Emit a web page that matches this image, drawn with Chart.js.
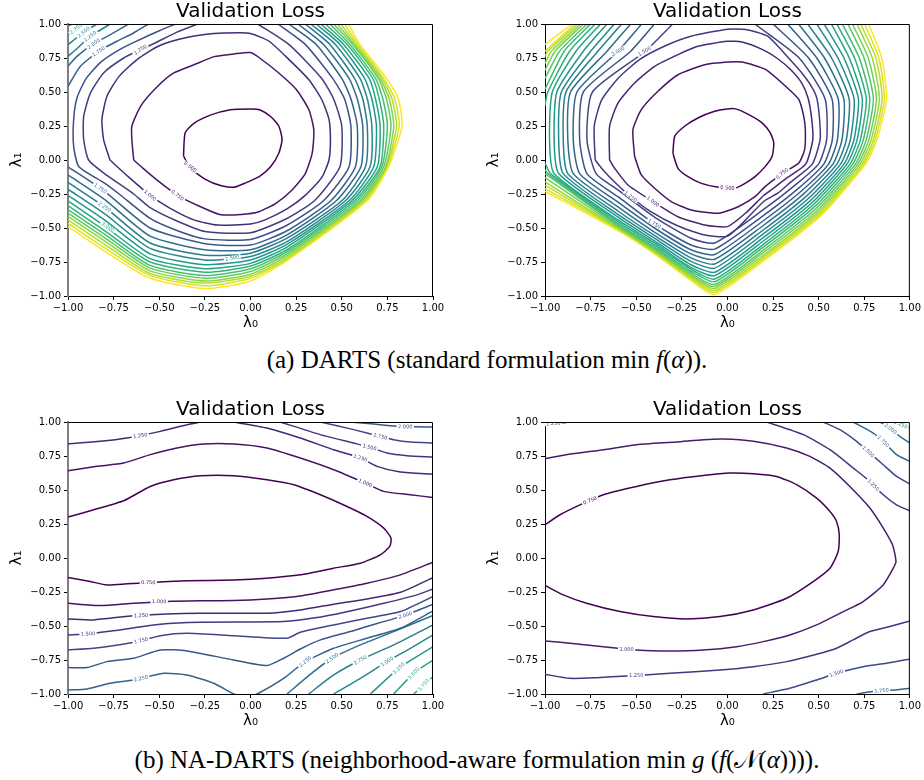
<!DOCTYPE html>
<html>
<head>
<meta charset="utf-8">
<script src="https://cdn.jsdelivr.net/npm/chart.js@4.4.0/dist/chart.umd.min.js"></script>
<style>
  html, body { margin: 0; padding: 0; background: #fff; overflow: hidden; }
  body { width: 924px; height: 780px; position: relative; }
  .panel { position: absolute; }
  .caption {
    position: absolute; transform: translateX(-50%); white-space: nowrap;
    font-family: "Liberation Serif", "Times New Roman", serif; font-size: 25px; line-height: 32px; color: #000;
  }
</style>
</head>
<body>
<div class="panel" style="left:0;top:0"><canvas id="c1" width="450" height="340"></canvas></div>
<div class="panel" style="left:477px;top:0"><canvas id="c2" width="446" height="340"></canvas></div>
<div class="panel" style="left:0;top:398px"><canvas id="c3" width="450" height="340"></canvas></div>
<div class="panel" style="left:477px;top:398px"><canvas id="c4" width="446" height="340"></canvas></div>
<div class="caption" style="left:487px;top:344px">(a) DARTS (standard formulation min <i>f</i>(<i>α</i>)).</div>
<div class="caption" style="left:477px;top:744px">(b) NA-DARTS (neighborhood-aware formulation min <i>g</i> (<i>f</i>(𝒩(<i>α</i>)))).</div>
<script>
// ---------- (a) left: DARTS, run 1 ----------
// inner loops, flat x,y pairs
const p1c050 = [-0.367,0.03, -0.358,0.20, -0.31,0.27, -0.22,0.33, -0.11,0.37, 0.0,0.375, 0.05,0.37, 0.11,0.32, 0.155,0.25, 0.173,0.15, 0.155,0.05, 0.11,-0.05, 0.05,-0.12, -0.03,-0.17, -0.09,-0.20, -0.16,-0.19, -0.25,-0.14, -0.33,-0.06, -0.367,0.03];
const p1c075 = [-0.64,0.0, -0.65,0.15, -0.65,0.25, -0.60,0.40, -0.51,0.54, -0.42,0.64, -0.31,0.70, -0.20,0.76, -0.09,0.78, 0.0,0.79, 0.05,0.75, 0.155,0.64, 0.25,0.52, 0.32,0.37, 0.347,0.22, 0.338,0.05, 0.30,-0.10, 0.228,-0.22, 0.137,-0.32, 0.046,-0.38, -0.05,-0.40, -0.17,-0.40, -0.28,-0.34, -0.40,-0.26, -0.51,-0.15, -0.59,-0.06, -0.64,0.0];
const p1c100 = [-0.77,0.0, -0.805,0.15, -0.814,0.30, -0.786,0.47, -0.72,0.615, -0.62,0.74, -0.50,0.84, -0.35,0.90, -0.20,0.93, -0.06,0.935, 0.0,0.93, 0.10,0.875, 0.21,0.74, 0.32,0.59, 0.39,0.445, 0.43,0.30, 0.438,0.15, 0.43,0.0, 0.39,-0.13, 0.30,-0.26, 0.20,-0.36, 0.08,-0.44, 0.0,-0.47, -0.18,-0.478, -0.31,-0.44, -0.44,-0.355, -0.55,-0.26, -0.68,-0.11, -0.77,0.0];
const p1c125 = [-0.29,1.0, -0.403,0.94, -0.531,0.855, -0.604,0.811, -0.695,0.75, -0.805,0.64, -0.878,0.49, -0.914,0.32, -0.914,0.15, -0.887,0.0, -0.80,-0.10, -0.64,-0.25, -0.55,-0.35, -0.40,-0.45, -0.25,-0.525, 0.0,-0.535, 0.2,-0.43, 0.35,-0.30, 0.49,-0.05, 0.50,0.25, 0.455,0.45, 0.39,0.60, 0.21,0.85, 0.04,1.0];
const p1c150 = [-0.41,1.0, -0.50,0.95, -0.63,0.87, -0.72,0.81, -0.82,0.72, -0.90,0.60, -0.95,0.46, -0.969,0.30, -0.969,0.10, -0.94,-0.05, -0.80,-0.17, -0.72,-0.25, -0.55,-0.43, -0.40,-0.52, -0.25,-0.58, 0.0,-0.585, 0.2,-0.48, 0.40,-0.30, 0.54,-0.05, 0.55,0.25, 0.515,0.45, 0.45,0.60, 0.30,0.85, 0.15,1.0];
// top-left corner pieces
const p1TL175 = [-0.558,1.0, -0.641,0.934, -0.732,0.873, -0.832,0.799, -0.932,0.689, -1.0,0.542];
const p1TL200 = [-0.668,1.0, -0.768,0.922, -0.859,0.855, -0.951,0.762, -1.0,0.689];
const p1TL225 = [-0.768,1.0, -0.878,0.909, -0.95,0.82, -1.0,0.762];
const p1TL250 = [-0.841,1.0, -0.914,0.939, -1.0,0.848];
const p1TL275 = [-0.914,1.0, -1.0,0.922];
const p1TL300 = [-0.978,1.0, -1.0,0.983];
// outer band, read along fixed cuts
const p1Levels  = [1.75, 2.0, 2.25, 2.5, 2.75, 3.0, 3.25, 3.5, 3.75, 4.0, 4.25, 4.5, 4.75];
const p1EdgeY   = [-0.05,-0.11,-0.165,-0.215,-0.26,-0.30,-0.335,-0.365,-0.39,-0.415,-0.44,-0.465,-0.49]; // at x=-1
const p1YxM080  = [-0.23,-0.29,-0.345,-0.395,-0.44,-0.485,-0.52,-0.545,-0.57,-0.595,-0.62,-0.645,-0.67];
const p1YxM055  = [-0.50,-0.56,-0.61,-0.65,-0.69,-0.725,-0.75,-0.775,-0.795,-0.815,-0.835,-0.85,-0.87];
const p1YxM025  = [-0.615,-0.66,-0.70,-0.735,-0.77,-0.80,-0.825,-0.85,-0.87,-0.89,-0.905,-0.925,-0.945];
const p1Yx000   = [-0.625,-0.66,-0.685,-0.71,-0.735,-0.76,-0.78,-0.80,-0.82,-0.84,-0.855,-0.87,-0.89];
const p1Yx020   = [-0.52,-0.55,-0.575,-0.60,-0.62,-0.64,-0.66,-0.675,-0.69,-0.705,-0.72,-0.73,-0.74];
const p1XyM030  = [0.44,0.47,0.50,0.52,0.54,0.555,0.57,0.585,0.60,0.61,0.62,0.63,0.64];
const p1XyM005  = [0.575,0.605,0.63,0.655,0.675,0.695,0.71,0.72,0.73,0.74,0.745,0.75,0.757];
const p1Xy025   = [0.585,0.615,0.64,0.665,0.69,0.71,0.73,0.75,0.77,0.785,0.80,0.815,0.83];
const p1Xy045   = [0.55,0.585,0.615,0.64,0.665,0.685,0.705,0.725,0.745,0.76,0.775,0.79,0.81];
const p1Xy060   = [0.50,0.54,0.57,0.60,0.625,0.65,0.67,0.685,0.70,0.71,0.72,0.73,0.745];
const p1Xy085   = [0.36,0.40,0.435,0.465,0.49,0.51,0.53,0.545,0.56,0.57,0.58,0.59,0.60];
const p1TopX    = [0.21,0.26,0.30,0.33,0.36,0.385,0.41,0.435,0.455,0.475,0.495,0.515,0.537]; // at y=1
const p1Labels = [
  [-0.33,-0.05,37,0.5], [-0.40,-0.26,37,0.75], [-0.55,-0.26,41,1.0], [-0.823,-0.209,34,1.75],
  [-0.80,-0.345,34,2.25], [-0.78,-0.49,34,3.0], [-0.10,-0.72,-12,2.5], [-0.604,0.811,-33,1.25],
  [-0.832,0.799,-34,1.75], [-0.859,0.855,-35,2.0], [-0.878,0.909,-38,2.25], [-0.914,0.939,-38,2.5], [-0.955,0.965,-38,2.75]
];

// ---------- (a) right: DARTS, run 2 ----------
const p2c050 = [-0.299,0.05, -0.289,0.174, -0.235,0.248, -0.162,0.309, -0.07,0.358, 0.0,0.375, 0.044,0.376, 0.117,0.334, 0.19,0.273, 0.235,0.199, 0.254,0.125, 0.245,0.027, 0.208,-0.047, 0.153,-0.12, 0.099,-0.17, 0.044,-0.206, -0.05,-0.20, -0.143,-0.172, -0.216,-0.123, -0.271,-0.061, -0.299,0.05];
const p2c075 = [-0.509,0.027, -0.518,0.223, -0.472,0.37, -0.381,0.505, -0.271,0.627, -0.125,0.70, 0.0,0.72, 0.08,0.72, 0.208,0.666, 0.318,0.543, 0.391,0.445, 0.418,0.322, 0.427,0.224, 0.423,0.076, 0.391,-0.022, 0.30,-0.10, 0.208,-0.194, 0.153,-0.268, 0.062,-0.342, -0.029,-0.386, -0.07,-0.392, -0.198,-0.368, -0.308,-0.306, -0.399,-0.208, -0.472,-0.11, -0.509,0.027];
const p2c100 = [-0.646,0.0, -0.646,0.248, -0.60,0.419, -0.509,0.566, -0.399,0.689, -0.271,0.775, -0.162,0.836, 0.0,0.873, 0.08,0.867, 0.19,0.813, 0.27,0.75, 0.35,0.66, 0.41,0.56, 0.443,0.45, 0.462,0.30, 0.468,0.15, 0.429,-0.03, 0.324,-0.133, 0.26,-0.20, 0.20,-0.259, 0.10,-0.39, 0.0,-0.49, -0.125,-0.478, -0.271,-0.417, -0.408,-0.306, -0.545,-0.184, -0.618,-0.061, -0.646,0.0];
const p2c125 = [-0.725,0.0, -0.73,0.25, -0.69,0.44, -0.60,0.60, -0.48,0.74, -0.34,0.84, -0.2,0.91, 0.0,0.962, 0.1,0.96, 0.22,0.91, 0.335,0.75, 0.42,0.62, 0.47,0.52, 0.491,0.45, 0.505,0.30, 0.508,0.15, 0.465,-0.03, 0.346,-0.163, 0.28,-0.24, 0.2,-0.303, 0.1,-0.44, 0.0,-0.56, -0.13,-0.55, -0.28,-0.48, -0.42,-0.38, -0.53,-0.27, -0.62,-0.16, -0.69,-0.06, -0.725,0.0];
const p2Levels  = [1.5, 1.75, 2.0, 2.25, 2.5, 2.75, 3.0, 3.25, 3.5, 3.75, 4.0, 4.25, 4.5, 4.75, 5.0, 5.25];
const p2TopL    = [-0.30,-0.40,-0.47,-0.53,-0.58,-0.62,-0.66,-0.695,-0.725,-0.75,-0.77,-0.79,-0.805,-0.82,-0.835,-0.85];
const p2Xy080   = [-0.45,-0.53,-0.60,-0.66,-0.71,-0.75,-0.79,-0.83,-0.865,-0.895,-0.92,-0.945,-0.965,-0.985,null,null];
const p2Xy050   = [-0.74,-0.79,-0.825,-0.86,-0.885,-0.91,-0.935,-0.96,-0.985,null,null,null,null,null,null,null];
const p2Xy015   = [-0.77,-0.81,-0.845,-0.875,-0.90,-0.925,-0.95,-0.975,null,null,null,null,null,null,null,null];
const p2EdgeUp  = [null,null,null,null,null,null,null,null,0.40,0.52,0.60,0.66,0.71,0.76,0.80,0.85];
const p2EdgeLo  = [null,null,null,null,null,null,null,null,-0.02,-0.07,-0.10,-0.13,-0.16,-0.185,-0.21,-0.23];
const p2XyM010  = [-0.72,-0.77,-0.81,-0.845,-0.875,-0.90,-0.925,-0.95,-0.97,-0.985,null,null,null,null,null,null];
const p2YxM060  = [-0.22,-0.27,-0.31,-0.345,-0.375,-0.40,-0.42,-0.44,-0.455,-0.47,-0.48,-0.49,-0.50,-0.505,-0.51,-0.52];
const p2YxM040  = [-0.42,-0.47,-0.50,-0.53,-0.555,-0.575,-0.595,-0.61,-0.625,-0.64,-0.65,-0.66,-0.668,-0.675,-0.683,-0.69];
const p2YxM020  = [-0.575,-0.625,-0.66,-0.69,-0.72,-0.745,-0.77,-0.79,-0.803,-0.818,-0.832,-0.845,-0.855,-0.865,-0.875,-0.885];
const p2YxM007  = [-0.61,-0.655,-0.695,-0.73,-0.765,-0.795,-0.825,-0.85,-0.875,-0.895,-0.915,-0.93,-0.945,-0.96,-0.975,-0.99];
const p2Yx020   = [-0.362,-0.405,-0.443,-0.478,-0.511,-0.540,-0.567,-0.592,-0.616,-0.637,-0.659,-0.678,-0.697,-0.713,-0.727,-0.74];
const p2DiagX   = [0.366,0.384,0.399,0.413,0.427,0.439,0.450,0.460,0.469,0.478,0.487,0.495,0.502,0.509,0.515,0.52];
const p2DiagY   = [-0.190,-0.214,-0.235,-0.255,-0.273,-0.289,-0.304,-0.318,-0.331,-0.343,-0.355,-0.366,-0.376,-0.385,-0.393,-0.40];
const p2XyM003  = [0.499,0.528,0.554,0.578,0.60,0.62,0.639,0.655,0.672,0.687,0.702,0.715,0.727,0.739,0.748,0.757];
const p2XyP015  = [0.544,0.575,0.603,0.628,0.652,0.674,0.694,0.711,0.729,0.745,0.761,0.775,0.788,0.80,0.81,0.82];
const p2XyP045  = [0.535,0.573,0.607,0.638,0.667,0.694,0.718,0.739,0.761,0.78,0.80,0.817,0.833,0.848,0.86,0.872];
const p2XyP075  = [0.393,0.445,0.49,0.532,0.571,0.606,0.639,0.668,0.697,0.723,0.749,0.772,0.794,0.814,0.83,0.846];
const p2TopR    = [0.15,0.25,0.33,0.39,0.44,0.49,0.53,0.57,0.60,0.63,0.66,0.685,0.71,0.73,0.752,0.774];
const p2Labels = [
  [0.0,-0.205,3,0.5], [0.30,-0.10,-40,0.75], [-0.408,-0.306,35,1.0], [-0.53,-0.27,38,1.25],
  [-0.40,-0.47,30,1.75], [-0.454,0.80,-30,1.5], [-0.60,0.80,-30,2.0]
];

// ---------- (b) left: NA-DARTS, run 1 ----------
const p3c125a = [-1,0.84, -0.823,0.858, -0.677,0.882, -0.494,0.931, -0.348,0.98, -0.275,1.0];
const p3c125b = [-0.092,1.0, 0.09,0.956, 0.273,0.882, 0.456,0.796, 0.602,0.735, 0.693,0.674, 0.821,0.632, 1.0,0.617];
const p3c150a = [0.163,1.0, 0.383,0.907, 0.565,0.845, 0.657,0.813, 0.748,0.772, 0.858,0.752, 1.0,0.742];
const p3c175a = [0.383,1.0, 0.565,0.944, 0.711,0.894, 0.784,0.87, 0.876,0.853, 1.0,0.845];
const p3c200a = [0.547,1.0, 0.675,0.985, 0.821,0.968, 1.0,0.963];
const p3c100a = [-1,0.642, -0.841,0.674, -0.695,0.698, -0.549,0.76, -0.403,0.809, -0.257,0.838, -0.092,0.838, 0.09,0.809, 0.273,0.735, 0.456,0.649, 0.629,0.551, 0.73,0.49, 0.876,0.465, 1.0,0.445];
const p3c075  = [-1,0.301, -0.859,0.355, -0.695,0.421, -0.549,0.526, -0.421,0.575, -0.275,0.605, -0.092,0.605, 0.09,0.575, 0.237,0.539, 0.383,0.465, 0.529,0.379, 0.638,0.306, 0.73,0.22, 0.77,0.146, 0.763,0.085, 0.711,0.023, 0.602,-0.038, 0.456,-0.075, 0.273,-0.124, 0.09,-0.148, -0.092,-0.161, -0.348,-0.168, -0.549,-0.18, -0.677,-0.19, -0.786,-0.198, -0.878,-0.173, -1,-0.144];
const p3c100b = [-1,-0.333, -0.823,-0.35, -0.64,-0.333, -0.458,-0.32, -0.275,-0.315, -0.092,-0.313, 0.09,-0.301, 0.273,-0.279, 0.456,-0.234, 0.638,-0.185, 0.821,-0.124, 1.0,-0.031];
const p3c125c = [-1,-0.448, -0.859,-0.455, -0.658,-0.426, -0.458,-0.411, -0.275,-0.406, 0.09,-0.406, 0.273,-0.382, 0.456,-0.34, 0.638,-0.301, 0.821,-0.252, 1.0,-0.144];
const p3c150b = [-1,-0.566, -0.896,-0.558, -0.786,-0.541, -0.494,-0.487, -0.275,-0.472, 0.182,-0.467, 0.364,-0.438, 0.547,-0.389, 0.73,-0.333, 0.912,-0.271, 1.0,-0.227];
const p3c175b = [-1,-0.676, -0.859,-0.664, -0.64,-0.62, -0.494,-0.571, -0.348,-0.553, -0.092,-0.571, 0.20,-0.59, 0.273,-0.546, 0.456,-0.492, 0.638,-0.443, 0.821,-0.394, 1.0,-0.283];
const p3c200b = [-1,-0.806, -0.896,-0.806, -0.786,-0.762, -0.64,-0.737, -0.494,-0.676, -0.348,-0.683, -0.092,-0.75, 0.09,-0.791, 0.182,-0.737, 0.273,-0.669, 0.383,-0.602, 0.547,-0.541, 0.638,-0.504, 0.848,-0.42, 1.0,-0.34];
const p3c225  = [-1,-0.971, -0.896,-0.963, -0.768,-0.921, -0.64,-0.897, -0.476,-0.848, -0.348,-0.86, -0.202,-0.921, -0.092,-1.0, -0.028,-1.03, 0.036,-1.0, 0.182,-0.885, 0.30,-0.762, 0.456,-0.664, 0.638,-0.59, 0.821,-0.517, 1.0,-0.389];
const p3c250  = [0.20,-1.0, 0.346,-0.836, 0.447,-0.737, 0.602,-0.639, 0.785,-0.541, 1.0,-0.423];
const p3c275  = [0.319,-1.0, 0.456,-0.86, 0.602,-0.75, 0.785,-0.639, 1.0,-0.492];
const p3c300  = [0.456,-1.0, 0.602,-0.885, 0.748,-0.762, 0.876,-0.664, 1.0,-0.566];
const p3c325  = [0.657,-1.0, 0.812,-0.811, 1.0,-0.652];
const p3c350  = [0.785,-1.0, 0.894,-0.848, 1.0,-0.75];
const p3c375  = [0.894,-1.0, 0.949,-0.934, 1.0,-0.872];
const p3Labels = [
  [-0.604,0.90,-8,1.25], [0.848,0.966,2,2.0], [0.711,0.894,14,1.75], [0.652,0.815,14,1.5], [0.602,0.735,17,1.25], [0.629,0.551,23,1.0],
  [-0.56,-0.18,1,0.75], [-0.50,-0.32,1,1.0], [-0.60,-0.423,-3,1.25], [-0.89,-0.557,-3,1.5], [-0.60,-0.607,-14,1.75], [0.848,-0.42,-18,2.0],
  [-0.60,-0.885,-12,2.25], [0.30,-0.762,-40,2.25], [0.447,-0.737,-36,2.5], [0.602,-0.75,-30,2.75], [0.748,-0.762,-35,3.0],
  [0.812,-0.811,-45,3.25], [0.894,-0.848,-48,3.5], [0.949,-0.934,-50,3.75]
];

// ---------- (b) right: NA-DARTS, run 2 ----------
const p4c125a = [-1,0.985, -0.9,0.995, -0.85,1.005];
const p4c100  = [-1,0.73, -0.863,0.764, -0.68,0.796, -0.498,0.833, -0.279,0.853, -0.132,0.87, -0.023,0.875, 0.142,0.858, 0.324,0.809, 0.452,0.747, 0.562,0.661, 0.671,0.526, 0.781,0.367, 0.854,0.22, 0.905,0.097, 0.924,-0.026, 0.909,-0.075, 0.854,-0.198, 0.744,-0.32, 0.635,-0.394, 0.489,-0.492, 0.342,-0.566, 0.196,-0.615, 0.05,-0.652, -0.132,-0.676, -0.315,-0.683, -0.498,-0.676, -0.68,-0.652, -0.863,-0.627, -1,-0.61];
const p4c075  = [-1,0.244, -0.918,0.318, -0.808,0.391, -0.68,0.465, -0.498,0.526, -0.315,0.575, -0.132,0.607, 0.014,0.625, 0.142,0.62, 0.269,0.60, 0.379,0.539, 0.489,0.44, 0.562,0.342, 0.598,0.269, 0.613,0.171, 0.607,0.048, 0.562,-0.075, 0.47,-0.173, 0.324,-0.296, 0.142,-0.382, -0.041,-0.431, -0.224,-0.448, -0.406,-0.431, -0.589,-0.394, -0.772,-0.333, -0.9,-0.271, -1,-0.202];
const p4c125b = [-1,-0.855, -0.863,-0.885, -0.717,-0.88, -0.552,-0.867, -0.315,-0.848, -0.041,-0.823, 0.142,-0.799, 0.324,-0.762, 0.489,-0.708, 0.598,-0.664, 0.689,-0.602, 0.781,-0.541, 0.89,-0.504, 1.0,-0.463];
const p4c125c = [0.215,1.0, 0.416,0.907, 0.562,0.796, 0.69,0.661, 0.781,0.563, 0.854,0.465, 0.927,0.391, 1.0,0.347];
const p4c150a = [0.196,-1.0, 0.342,-0.958, 0.489,-0.897, 0.598,-0.848, 0.744,-0.799, 0.872,-0.774, 1.0,-0.742];
const p4c150b = [0.525,1.0, 0.616,0.944, 0.708,0.858, 0.781,0.772, 0.854,0.686, 0.927,0.60, 1.0,0.544];
const p4c175a = [0.708,-1.0, 0.817,-0.978, 0.909,-0.971, 1.0,-0.958];
const p4c175b = [0.689,1.0, 0.799,0.919, 0.854,0.858, 0.927,0.76, 1.0,0.71];
const p4c200  = [0.836,1.0, 0.89,0.956, 0.945,0.894, 1.0,0.845];
const p4c225  = [0.918,1.0, 1.0,0.956];
const p4Labels = [
  [-0.954,0.99,-4,1.25], [-0.753,0.423,-23,0.75], [-0.553,-0.672,0,1.0], [-0.50,-0.865,0,1.25], [0.598,-0.848,-19,1.5],
  [0.845,-0.975,-5,1.75], [0.80,0.537,45,1.25], [0.772,0.782,45,1.5], [0.854,0.858,45,1.75], [0.895,0.95,38,2.0], [0.95,0.983,25,2.25]
];

// colour range of each panel's levels
const ranges = { p1: [0.5, 4.75], p2: [0.5, 5.25], p3: [0.75, 5.5], p4: [0.75, 4.0] };

const VIRIDIS = ['#440154','#482475','#414487','#355f8d','#2a788e','#21918c','#22a884','#44bf70','#7ad151','#bddf26','#fde725'];
function hexRgb(h) { return [1, 3, 5].map(i => parseInt(h.slice(i, i + 2), 16)); }
function viridis(t) {
  t = Math.max(0, Math.min(1, t));
  const f = t * 10, i = Math.min(9, Math.floor(f)), u = f - i;
  const a = hexRgb(VIRIDIS[i]), b = hexRgb(VIRIDIS[i + 1]);
  return 'rgb(' + a.map((v, k) => Math.round(v + (b[k] - v) * u)).join(',') + ')';
}
const colorOf = (level, r) => viridis((level - r[0]) / (r[1] - r[0]));

function pts(flat) {
  const out = [];
  for (let i = 0; i < flat.length; i += 2) out.push({ x: flat[i], y: flat[i + 1] });
  return out;
}
function contour(points, level, r) {
  return { data: points, showLine: true, borderColor: colorOf(level, r), borderWidth: 1.5,
           pointRadius: 0, tension: 0.2, fill: false };
}
function labelItems(list, r) {
  return list.map(([x, y, angle, level]) => ({ x, y, angle, text: level.toFixed(3), color: colorOf(level, r) }));
}

// panel 1 datasets
const d1 = [];
[[0.5, p1c050], [0.75, p1c075], [1.0, p1c100], [1.25, p1c125], [1.5, p1c150],
 [1.75, p1TL175], [2.0, p1TL200], [2.25, p1TL225], [2.5, p1TL250], [2.75, p1TL275], [3.0, p1TL300]]
  .forEach(([lv, arr]) => d1.push(contour(pts(arr), lv, ranges.p1)));
p1Levels.forEach((lv, i) => {
  d1.push(contour([
    { x: -1, y: p1EdgeY[i] }, { x: -0.8, y: p1YxM080[i] }, { x: -0.55, y: p1YxM055[i] },
    { x: -0.25, y: p1YxM025[i] }, { x: 0, y: p1Yx000[i] }, { x: 0.2, y: p1Yx020[i] },
    { x: p1XyM030[i], y: -0.3 }, { x: p1XyM005[i], y: -0.05 }, { x: p1Xy025[i], y: 0.25 },
    { x: p1Xy045[i], y: 0.45 }, { x: p1Xy060[i], y: 0.6 }, { x: p1Xy085[i], y: 0.85 }, { x: p1TopX[i], y: 1 }
  ], lv, ranges.p1));
});

// panel 2 datasets
const d2 = [];
[[0.5, p2c050], [0.75, p2c075], [1.0, p2c100], [1.25, p2c125]]
  .forEach(([lv, arr]) => d2.push(contour(pts(arr), lv, ranges.p2)));
p2Levels.forEach((lv, i) => {
  let cur = [{ x: p2TopL[i], y: 1 }];
  if (p2Xy080[i] !== null) cur.push({ x: p2Xy080[i], y: 0.8 });
  if (p2Xy050[i] !== null) cur.push({ x: p2Xy050[i], y: 0.5 });
  if (p2EdgeUp[i] !== null) {
    cur.push({ x: -1, y: p2EdgeUp[i] });
    d2.push(contour(cur, lv, ranges.p2));
    cur = [{ x: -1, y: p2EdgeLo[i] }];
  } else {
    cur.push({ x: p2Xy015[i], y: 0.15 });
  }
  if (p2XyM010[i] !== null) cur.push({ x: p2XyM010[i], y: -0.1 });
  cur.push({ x: -0.6, y: p2YxM060[i] }, { x: -0.4, y: p2YxM040[i] }, { x: -0.2, y: p2YxM020[i] },
           { x: -0.07, y: p2YxM007[i] }, { x: 0.2, y: p2Yx020[i] }, { x: p2DiagX[i], y: p2DiagY[i] },
           { x: p2XyM003[i], y: -0.03 }, { x: p2XyP015[i], y: 0.15 }, { x: p2XyP045[i], y: 0.45 },
           { x: p2XyP075[i], y: 0.75 }, { x: p2TopR[i], y: 1 });
  d2.push(contour(cur, lv, ranges.p2));
});

// panel 3 datasets
const d3 = [[0.75, p3c075], [1.0, p3c100a], [1.0, p3c100b], [1.25, p3c125a], [1.25, p3c125b], [1.25, p3c125c],
  [1.5, p3c150a], [1.5, p3c150b], [1.75, p3c175a], [1.75, p3c175b], [2.0, p3c200a], [2.0, p3c200b],
  [2.25, p3c225], [2.5, p3c250], [2.75, p3c275], [3.0, p3c300], [3.25, p3c325], [3.5, p3c350], [3.75, p3c375]]
  .map(([lv, arr]) => contour(pts(arr), lv, ranges.p3));

// panel 4 datasets
const d4 = [[0.75, p4c075], [1.0, p4c100], [1.25, p4c125a], [1.25, p4c125b], [1.25, p4c125c],
  [1.5, p4c150a], [1.5, p4c150b], [1.75, p4c175a], [1.75, p4c175b], [2.0, p4c200], [2.25, p4c225]]
  .map(([lv, arr]) => contour(pts(arr), lv, ranges.p4));

// inline contour labels (matplotlib clabel look)
const contourLabels = {
  id: 'contourLabels',
  afterDatasetsDraw(chart, args, opts) {
    const { ctx, chartArea: a, scales: { x, y } } = chart;
    ctx.save();
    ctx.beginPath();
    ctx.rect(a.left, a.top, a.right - a.left, a.bottom - a.top);
    ctx.clip();
    ctx.font = '5px "DejaVu Sans"';
    ctx.textAlign = 'center';
    ctx.textBaseline = 'middle';
    (opts.items || []).forEach(l => {
      ctx.save();
      ctx.translate(x.getPixelForValue(l.x), y.getPixelForValue(l.y));
      ctx.rotate(l.angle * Math.PI / 180);
      const w = ctx.measureText(l.text).width;
      ctx.fillStyle = '#fff';
      ctx.fillRect(-w / 2 - 1.5, -2.2, w + 3, 4.4);
      ctx.fillStyle = l.color;
      ctx.fillText(l.text, 0, 0.3);
      ctx.restore();
    });
    ctx.restore();
  }
};
// top and right spines
const frame = {
  id: 'frame',
  afterDatasetsDraw(chart) {
    const { ctx, chartArea: a } = chart;
    ctx.save();
    ctx.strokeStyle = '#000';
    ctx.lineWidth = 1;
    ctx.beginPath();
    ctx.moveTo(a.left, a.top + 0.5);
    ctx.lineTo(a.right - 0.5, a.top + 0.5);
    ctx.lineTo(a.right - 0.5, a.bottom);
    ctx.stroke();
    ctx.restore();
  }
};

const fmtTick = v => (v < 0 ? '\u2212' : '') + Math.abs(v).toFixed(2);
const tickFont = { family: 'DejaVu Sans', size: 10 };
const axisFont = { family: 'DejaVu Sans', size: 15 };

function drawPanel(id, datasets, labels, padRight, leftBorder) {
  return new Chart(document.getElementById(id), {
    type: 'scatter',
    data: { datasets },
    options: {
      responsive: false,
      animation: false,
      events: [],
      layout: { padding: { top: 0, right: padRight, bottom: 0, left: 0 } },
      plugins: {
        legend: { display: false },
        tooltip: { enabled: false },
        title: {
          display: true, text: 'Validation Loss', fullSize: false, color: '#000',
          font: { family: 'DejaVu Sans', size: 20, weight: 'normal', lineHeight: 1.2 },
          padding: { top: 0, bottom: 0 }
        },
        contourLabels: { items: labels }
      },
      scales: {
        x: {
          type: 'linear', min: -1, max: 1,
          afterFit: s => { s.height = 44; },
          ticks: { stepSize: 0.25, autoSkip: false, maxRotation: 0, minRotation: 0, padding: 2,
                   color: '#000', font: tickFont, callback: fmtTick },
          grid: { drawOnChartArea: false, tickLength: 4, color: '#000' },
          border: { color: '#000', width: 1 },
          title: { display: true, text: 'λ₀', color: '#000', font: axisFont, padding: { top: 0, bottom: 8 } }
        },
        y: {
          type: 'linear', min: -1, max: 1,
          afterFit: s => { s.width = 68; },
          ticks: { stepSize: 0.25, autoSkip: false, padding: 3, color: '#000', font: tickFont, callback: fmtTick },
          grid: { drawOnChartArea: false, tickLength: 4, color: '#000' },
          border: leftBorder,
          title: { display: true, text: 'λ₁', color: '#000', font: axisFont, padding: { top: 8, bottom: 0 } }
        }
      }
    },
    plugins: [contourLabels, frame]
  });
}

const greySpine = { color: '#808080', width: 2 };
const blackSpine = { color: '#000', width: 1 };
drawPanel('c1', d1, labelItems(p1Labels, ranges.p1), 17, greySpine);
drawPanel('c2', d2, labelItems(p2Labels, ranges.p2), 13, blackSpine);
drawPanel('c3', d3, labelItems(p3Labels, ranges.p3), 17, greySpine);
drawPanel('c4', d4, labelItems(p4Labels, ranges.p4), 13, blackSpine);
</script>
</body>
</html>
